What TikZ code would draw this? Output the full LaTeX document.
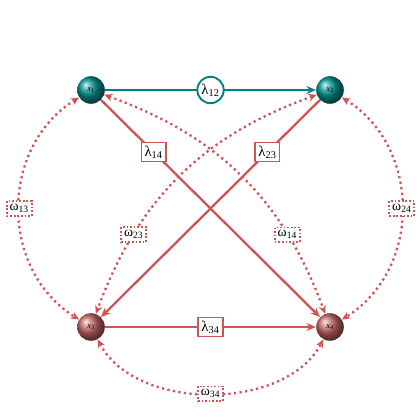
\documentclass[tikz,border=0pt]{standalone}
\usepackage{fontspec}
\setmainfont{Liberation Serif}
\usetikzlibrary{arrows.meta}
\definecolor{lteal}{RGB}{0,128,128}
\definecolor{lred}{RGB}{205,85,85}
\definecolor{bteal}{RGB}{0,145,145}
\definecolor{bred}{RGB}{195,100,100}
\tikzset{
  ballnode/.style={circle, minimum size=9.2mm, inner sep=0pt, shading=ball,
    font=\fontsize{8}{9}\selectfont, text=black},
  tealball/.style={ballnode, ball color=bteal},
  redball/.style={ballnode, ball color=bred},
  redline/.style={draw=lred, line width=2.2pt, arrows={-Stealth[length=9pt,width=7.5pt]}},
  tealline/.style={draw=lteal, line width=2.4pt, arrows={-Stealth[length=9pt,width=7.5pt]}},
  dotline/.style={draw=lred, line width=2.2pt, dash pattern=on 2.1pt off 3.2pt,
    arrows={Stealth[length=8pt,width=7pt]-Stealth[length=8pt,width=7pt]}},
  lbox/.style={rectangle, draw=lred, line width=1.6pt, fill=white, solid,
    inner sep=3pt, font=\fontsize{14}{16}\selectfont, text=black},
  lcirc/.style={circle, draw=lteal, line width=1.8pt, fill=white, solid,
    inner sep=1pt, minimum size=8.8mm, font=\fontsize{14}{16}\selectfont, text=black},
  wbox/.style={rectangle, draw=lred, line width=1.6pt, fill=white,
    dash pattern=on 1.6pt off 1.8pt, inner sep=2.8pt,
    font=\fontsize{13}{15}\selectfont, text=black},
}
\begin{document}
\begin{tikzpicture}[x=0.33333mm, y=0.33333mm]
\useasboundingbox (0,0) rectangle (420,420);
\node[tealball] (x1) at (91,330) {\textit{x}\textsubscript{1}};
\node[tealball] (x2) at (330,330) {\textit{x}\textsubscript{2}};
\node[redball] (x3) at (91,93) {\textit{x}\textsubscript{3}};
\node[redball] (x4) at (330,93) {\textit{x}\textsubscript{4}};

% dotted (omega) connectors
\draw[dotline] (x1) to[out=212, in=148, distance=31.4mm]
  node[wbox] {ω\textsubscript{13}} (x3);
\draw[dotline] (x2) to[out=-32, in=32, distance=31.4mm]
  node[wbox] {ω\textsubscript{24}} (x4);
\draw[dotline] (x3) to[out=-62, in=242, distance=27.3mm]
  node[wbox] {ω\textsubscript{34}} (x4);
\draw[dotline] (x1) to[bend left=25]
  node[wbox, pos=0.74] {ω\textsubscript{14}} (x4);
\draw[dotline] (x2) to[bend right=25]
  node[wbox, pos=0.74] {ω\textsubscript{23}} (x3);

% solid (lambda) connectors
\draw[redline] (x1) -- node[lbox, pos=0.24] {λ\textsubscript{14}} (x4);
\draw[redline] (x2) -- node[lbox, pos=0.24] {λ\textsubscript{23}} (x3);
\draw[redline] (x3) -- node[lbox] {λ\textsubscript{34}} (x4);
\draw[tealline] (x1) -- node[lcirc] {λ\textsubscript{12}} (x2);
\end{tikzpicture}
\end{document}
